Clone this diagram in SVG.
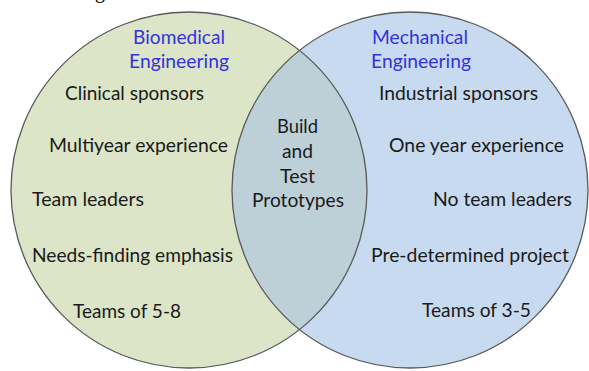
<svg xmlns="http://www.w3.org/2000/svg" width="589" height="371" viewBox="0 0 589 371">
<style>
.t{font-family:Lato,"Open Sans","Liberation Sans",sans-serif;font-size:20px;fill:#1a1a1a}
.h{font-family:Lato,"Open Sans","Liberation Sans",sans-serif;font-size:20px;fill:#3333dd}
.c{text-anchor:middle}
.ring{fill:none;stroke:#595959;stroke-width:1.3}
</style>
<rect width="589" height="371" fill="#ffffff"/>
<text x="95" y="-2" font-family="Liberation Serif,serif" font-size="20" fill="#000">g</text>
<g id="biomedical">
<circle cx="189" cy="190" r="178" fill="#dce5c7"/>
</g>
<g id="mechanical">
<circle cx="410" cy="190" r="178" fill="#c8daf0"/>
</g>
<g id="overlap">
<path d="M299.5,50.5 A178,178 0 0,1 299.5,329.5 A178,178 0 0,1 299.5,50.5 Z" fill="#bdd0d7"/>
</g>
<circle class="ring" cx="189" cy="190" r="178"/>
<circle class="ring" cx="410" cy="190" r="178"/>
<g id="biomedical-text">
<text class="h" x="133" y="44" textLength="92" lengthAdjust="spacingAndGlyphs">Biomedical</text>
<text class="h" x="129" y="68" textLength="100" lengthAdjust="spacingAndGlyphs">Engineering</text>
<text class="t" x="65" y="100" textLength="139" lengthAdjust="spacingAndGlyphs">Clinical sponsors</text>
<text class="t" x="49" y="152" textLength="179" lengthAdjust="spacingAndGlyphs">Multiyear experience</text>
<text class="t" x="32" y="206" textLength="112" lengthAdjust="spacingAndGlyphs">Team leaders</text>
<text class="t" x="32" y="262" textLength="201" lengthAdjust="spacingAndGlyphs">Needs-finding emphasis</text>
<text class="t" x="73" y="318" textLength="108" lengthAdjust="spacingAndGlyphs">Teams of 5-8</text>
</g>
<g id="mechanical-text">
<text class="h" x="372" y="44" textLength="96" lengthAdjust="spacingAndGlyphs">Mechanical</text>
<text class="h" x="371" y="68" textLength="100" lengthAdjust="spacingAndGlyphs">Engineering</text>
<text class="t" x="379" y="100" textLength="159" lengthAdjust="spacingAndGlyphs">Industrial sponsors</text>
<text class="t" x="389" y="152" textLength="175" lengthAdjust="spacingAndGlyphs">One year experience</text>
<text class="t" x="433" y="206" textLength="139" lengthAdjust="spacingAndGlyphs">No team leaders</text>
<text class="t" x="371" y="262" textLength="198" lengthAdjust="spacingAndGlyphs">Pre-determined project</text>
<text class="t" x="422" y="317" textLength="109" lengthAdjust="spacingAndGlyphs">Teams of 3-5</text>
</g>
<g id="shared-text">
<text class="t" x="277" y="133" textLength="41" lengthAdjust="spacingAndGlyphs">Build</text>
<text class="t" x="282" y="158" textLength="31" lengthAdjust="spacingAndGlyphs">and</text>
<text class="t" x="280" y="183" textLength="35" lengthAdjust="spacingAndGlyphs">Test</text>
<text class="t" x="252" y="207" textLength="92" lengthAdjust="spacingAndGlyphs">Prototypes</text>
</g>
</svg>
